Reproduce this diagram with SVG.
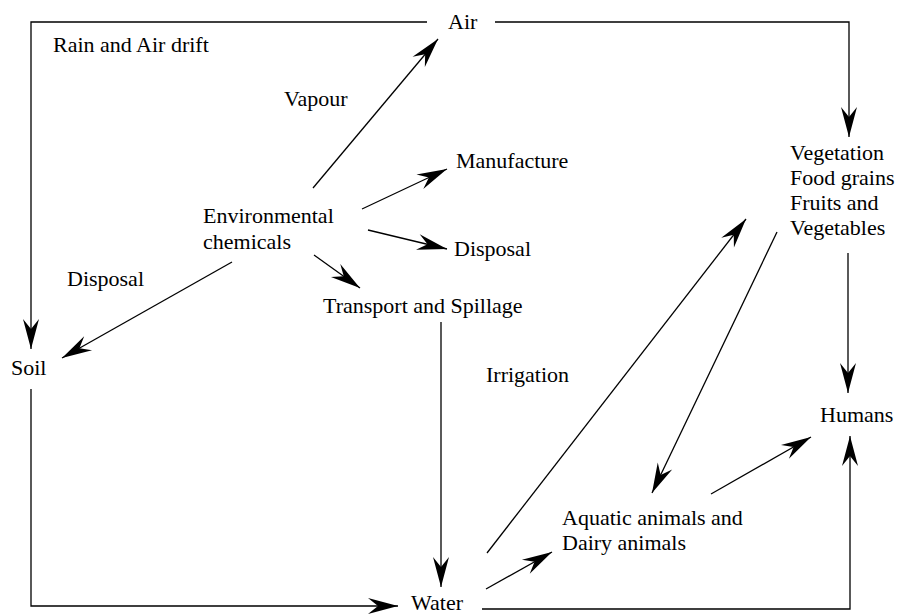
<svg xmlns="http://www.w3.org/2000/svg" width="898" height="614" viewBox="0 0 898 614">
<style>
text{font-family:"Liberation Serif","Times New Roman",serif;font-size:22px;fill:#000}
.c{fill:none;stroke:#000;stroke-width:1.3}
</style>
<defs>
<marker id="a" markerUnits="userSpaceOnUse" viewBox="-32 -9 32 18" refX="0" refY="0" markerWidth="32" markerHeight="18" orient="auto">
<path d="M0,0 L-30,-8 L-20,0 L-30,8 Z" fill="#000"/>
</marker>
</defs>
<rect width="898" height="614" fill="#fff"/>
<g id="connectors">
<path class="c" d="M427,22 H31 V349" marker-end="url(#a)"/>
<path class="c" d="M495,22 H849 V137" marker-end="url(#a)"/>
<path class="c" d="M313,188 L438,39" marker-end="url(#a)"/>
<path class="c" d="M362,209 L447,169" marker-end="url(#a)"/>
<path class="c" d="M368,230 L447,249" marker-end="url(#a)"/>
<path class="c" d="M314,255 L360,288" marker-end="url(#a)"/>
<path class="c" d="M232,262 L62,358" marker-end="url(#a)"/>
<path class="c" d="M31,389 V606 H398" marker-end="url(#a)"/>
<path class="c" d="M441,322 V587" marker-end="url(#a)"/>
<path class="c" d="M487,553 L746,219" marker-end="url(#a)"/>
<path class="c" d="M777,232 L652,493" marker-end="url(#a)"/>
<path class="c" d="M486,589 L552,552" marker-end="url(#a)"/>
<path class="c" d="M711,494 L811,437" marker-end="url(#a)"/>
<path class="c" d="M848,253 V393" marker-end="url(#a)"/>
<path class="c" d="M482,609 H850 V436" marker-end="url(#a)"/>
</g>
<g id="air"><text x="448" y="29">Air</text></g>
<g id="rain-label"><text x="53" y="52">Rain and Air drift</text></g>
<g id="vapour-label"><text x="284" y="106">Vapour</text></g>
<g id="manufacture"><text x="456" y="168">Manufacture</text></g>
<g id="env-chemicals"><text x="203" y="223">Environmental</text><text x="203" y="249">chemicals</text></g>
<g id="disposal-right"><text x="454" y="256">Disposal</text></g>
<g id="disposal-left-label"><text x="67" y="286">Disposal</text></g>
<g id="transport"><text x="323" y="313">Transport and Spillage</text></g>
<g id="soil"><text x="11" y="375">Soil</text></g>
<g id="irrigation-label"><text x="486" y="382">Irrigation</text></g>
<g id="vegetation"><text x="790" y="160">Vegetation</text><text x="790" y="185">Food grains</text><text x="790" y="210">Fruits and</text><text x="790" y="235">Vegetables</text></g>
<g id="humans"><text x="820" y="422">Humans</text></g>
<g id="aquatic"><text x="562" y="525">Aquatic animals and</text><text x="562" y="550">Dairy animals</text></g>
<g id="water"><text x="411" y="610">Water</text></g>
</svg>
